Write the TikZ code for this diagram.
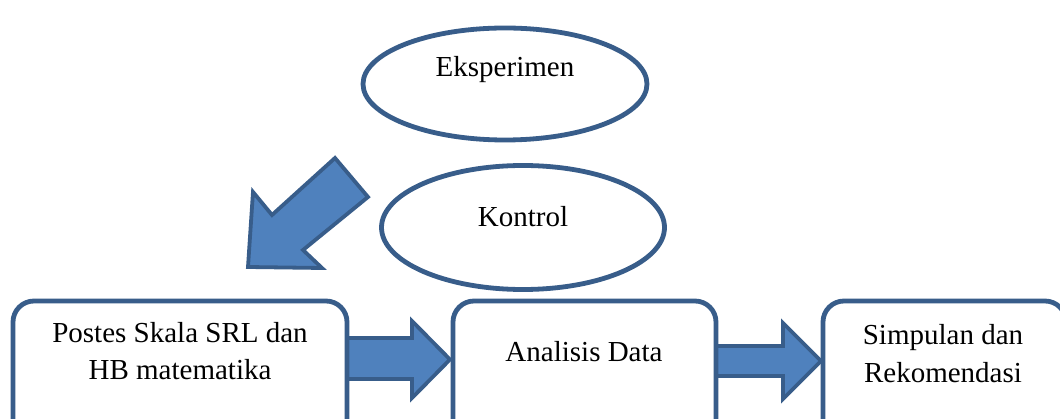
\documentclass[tikz,border=0pt]{standalone}
\usepackage{fontspec}
\setmainfont{Liberation Serif}
\usetikzlibrary{shapes.geometric}
\definecolor{fillblue}{HTML}{4F81BD}
\definecolor{edgeblue}{HTML}{385D8A}
\tikzset{
  ellip/.style={ellipse, draw=edgeblue, line width=4.8pt, fill=white, inner sep=0pt},
  roundbox/.style={draw=edgeblue, line width=4.8pt, fill=white, rounded corners=21pt},
  blockarrow/.style={draw=edgeblue, line width=3.8pt, fill=fillblue, line join=miter},
  lbl/.style={anchor=base, inner sep=0pt, font=\fontsize{29}{37}\selectfont}
}
\begin{document}
\begin{tikzpicture}[x=1pt, y=-1pt]
\clip (0,0) rectangle (1060,419);
\fill[white] (0,0) rectangle (1060,419);
% ellipses
\node[ellip, minimum width=284pt, minimum height=112pt] (eks) at (505,84) {};
\node[lbl] (eksT) at (505,77) {Eksperimen};
\node[ellip, minimum width=283pt, minimum height=124pt] (kon) at (523,227.5) {};
\node[lbl] (konT) at (523,227) {Kontrol};
% diagonal block arrow
\draw[blockarrow] (335,158) -- (368,197) -- (303,250) -- (322,268) -- (248,267) -- (253,192) -- (272,215) -- cycle;
% horizontal block arrows
\coordinate (a1t) at (450,359.5);
\draw[blockarrow] (347,338) -- (412,338) -- (412,321) -- (a1t) -- (412,398) -- (412,379) -- (347,379) -- cycle;
\coordinate (a2t) at (821,361);
\draw[blockarrow] (716,346) -- (783,346) -- (783,323) -- (a2t) -- (783,399) -- (783,376) -- (716,376) -- cycle;
% boxes
\draw[roundbox] (13,301) rectangle (347,440);
\node[inner sep=0pt] (b1) at (180,301) {};
\draw[roundbox] (453,301) rectangle (716,440);
\node[inner sep=0pt] (b2) at (584.5,301) {};
\draw[roundbox] (823,301) rectangle (1066,440);
\node[inner sep=0pt] (b3) at (944,301) {};
% texts
\node[lbl] (b1l1) at (180,343) {Postes Skala SRL dan};
\node[lbl] (b1l2) at (180,380) {HB matematika};
\node[lbl] (b2l1) at (584,362) {Analisis Data};
\node[lbl] (b3l1) at (943,345) {Simpulan dan};
\node[lbl] (b3l2) at (943,382) {Rekomendasi};
\end{tikzpicture}
\end{document}
